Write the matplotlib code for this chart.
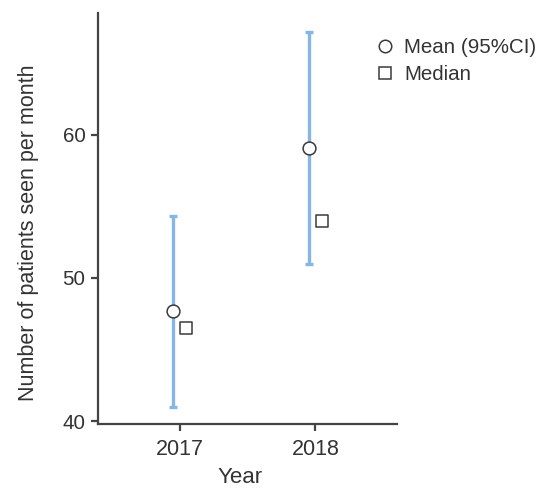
import matplotlib
matplotlib.use("Agg")
import matplotlib.pyplot as plt
from matplotlib.lines import Line2D
import numpy as np

plt.rcParams['font.family'] = ['Liberation Sans', 'DejaVu Sans']

years = [2017, 2018]
means = [47.7, 59.1]
ci_low = [41.0, 50.95]
ci_high = [54.3, 67.15]
medians = [46.5, 54.0]

fig = plt.figure(figsize=(5.46, 4.88), dpi=100)
ax = fig.add_axes([98/546, 1-424/488, (397-98)/546, (424-13)/488])

x = np.array(years, dtype=float)
dodge = 0.05
err_color = '#86b6e6'
dark = '#3a3a3a'

m = np.array(means)
ax.errorbar(x - dodge, m, yerr=[m - np.array(ci_low), np.array(ci_high) - m],
            fmt='none', ecolor=err_color, elinewidth=2.4, capsize=2.6, capthick=2.4, zorder=2)
ax.scatter(x - dodge, m, s=85, marker='o', facecolor='white', edgecolor=dark, linewidth=1.1, zorder=3)
ax.scatter(x + dodge, medians, s=70, marker='s', facecolor='white', edgecolor=dark, linewidth=1.1, zorder=3)

ax.set_xlim(2016.4, 2018.6)
ax.set_ylim(39.8, 68.5)
ax.set_xticks(years)
ax.set_xticklabels([str(y) for y in years])
ax.set_yticks([40, 50, 60])

for s in ['top', 'right']:
    ax.spines[s].set_visible(False)
for s in ['left', 'bottom']:
    ax.spines[s].set_color('#444444')
    ax.spines[s].set_linewidth(1.6)
ax.tick_params(axis='both', colors='#444444', width=1.6, length=5,
               labelcolor='#333333', pad=4)
ax.tick_params(axis='x', labelsize=15.5, pad=6)
ax.tick_params(axis='y', labelsize=14.8)

ax.set_xlabel('Year', fontsize=16, color='#333333')
ax.xaxis.set_label_coords((240-98)/(397-98), -0.104)
ax.set_ylabel('Number of patients seen per month', fontsize=15.5, color='#333333')
ax.yaxis.set_label_coords(-0.197, 0.465)

handles = [Line2D([], [], marker='o', linestyle='none', markersize=9, markerfacecolor='white',
                  markeredgecolor=dark, markeredgewidth=1.1),
           Line2D([], [], marker='s', linestyle='none', markersize=8, markerfacecolor='white',
                  markeredgecolor=dark, markeredgewidth=1.1)]
fig.legend(handles, ['Mean (95%CI)', 'Median'], loc='upper left',
           bbox_to_anchor=(364/546, 1-30/488), frameon=False, fontsize=14.8,
           handletextpad=0.35, labelspacing=0.4, handlelength=1.2, borderaxespad=0,
           labelcolor='#333333')

fig.savefig('out.png', dpi=100)
